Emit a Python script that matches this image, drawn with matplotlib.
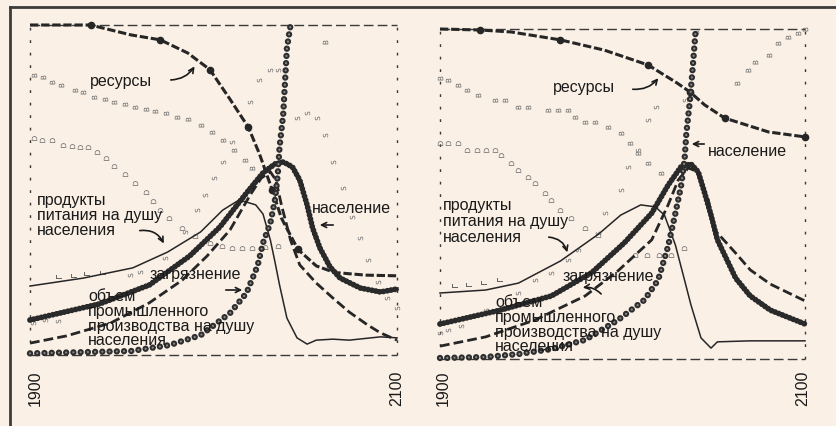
import matplotlib.pyplot as plt
from matplotlib.lines import Line2D
from matplotlib.markers import MarkerStyle
from matplotlib.patches import FancyArrowPatch
from matplotlib.transforms import Affine2D

plt.rcParams['font.family'] = ['Liberation Sans', 'DejaVu Sans']
plt.rcParams['lines.scale_dashes'] = False

W, H = 837, 426
BG = '#faf0e6'
INK = '#262626'

# ---------------- left panel ----------------
left_res_year = [1900, 1933, 1955, 1971, 1986, 1998, 2009, 2019, 2025, 2032, 2037, 2046, 2056, 2066, 2083, 2100]
left_res = [1.0, 1.0, 0.97, 0.955, 0.915, 0.865, 0.775, 0.69, 0.61, 0.5, 0.415, 0.32, 0.27, 0.25, 0.242, 0.24]

left_pol_year = [1900, 1955, 1976, 1993, 2009, 2018, 2024, 2027, 2031, 2033.5, 2035, 2036, 2038, 2039, 2040, 2042]
left_pol = [0.005, 0.012, 0.03, 0.06, 0.127, 0.188, 0.27, 0.34, 0.4, 0.47, 0.545, 0.63, 0.73, 0.83, 0.93, 1.0]

left_pop_year = [1900, 1938, 1965, 1987, 2003.5, 2018, 2027, 2033.5, 2038, 2043, 2047, 2051, 2054, 2058, 2063.5, 2069, 2080, 2091, 2100]
left_pop = [0.106, 0.155, 0.212, 0.3, 0.388, 0.491, 0.552, 0.579, 0.585, 0.57, 0.53, 0.455, 0.385, 0.324, 0.267, 0.233, 0.203, 0.191, 0.2]

left_ind_year = [1900, 1920, 1944, 1965, 1983, 1996.5, 2009, 2020, 2026, 2031, 2034, 2037, 2042, 2047, 2056, 2065, 2074, 2084, 2091, 2100]
left_ind = [0.036, 0.058, 0.097, 0.158, 0.227, 0.3, 0.379, 0.485, 0.536, 0.555, 0.53, 0.455, 0.348, 0.273, 0.218, 0.173, 0.13, 0.091, 0.067, 0.045]

left_food_year = [1900, 1929, 1956, 1975, 1993, 2005, 2014, 2023, 2027, 2031, 2033.5, 2036, 2040, 2045.5, 2051, 2056, 2065, 2074, 2091, 2100]
left_food = [0.209, 0.233, 0.264, 0.312, 0.373, 0.439, 0.47, 0.455, 0.427, 0.348, 0.282, 0.212, 0.112, 0.052, 0.033, 0.045, 0.048, 0.045, 0.055, 0.052]

left_b_year = [1902, 1907, 1912, 1917, 1924.5, 1929, 1935, 1941, 1946, 1952, 1957, 1963, 1968, 1974, 1980, 1986, 1993, 1999, 2005, 2011, 2017, 2021, 2061]
left_b = [0.848, 0.842, 0.827, 0.818, 0.803, 0.797, 0.782, 0.776, 0.767, 0.761, 0.752, 0.745, 0.739, 0.733, 0.721, 0.715, 0.697, 0.676, 0.652, 0.621, 0.591, 0.567, 0.948]

left_d_year = [1902, 1906.5, 1912, 1918, 1923, 1927, 1931.5, 1936.5, 1941.5, 1946, 1952, 1957, 1963, 1967, 1971, 1976, 1983, 1990, 1998, 2004.5, 2010, 2015.5, 2021, 2028, 2035]
left_d = [0.658, 0.652, 0.652, 0.636, 0.633, 0.63, 0.63, 0.615, 0.597, 0.573, 0.548, 0.521, 0.494, 0.467, 0.439, 0.415, 0.385, 0.361, 0.339, 0.33, 0.324, 0.324, 0.324, 0.327, 0.33]

left_s_year = [1901.5, 1908, 1915, 1954.5, 1960, 1973.5, 1984.5, 1991, 1995.5, 2000, 2005, 2010, 2020, 2025, 2031, 2035,
               2045.5, 2051, 2056.5, 2061, 2065, 2070.5, 2075.5, 2080, 2084, 2089.5, 2094.5, 2100]
left_s = [0.097, 0.106, 0.103, 0.242, 0.252, 0.294, 0.373, 0.439, 0.485, 0.536, 0.585, 0.645, 0.767, 0.833, 0.864, 0.864,
          0.718, 0.733, 0.718, 0.667, 0.585, 0.506, 0.418, 0.355, 0.288, 0.221, 0.173, 0.142]

left_f_year = [1916, 1924, 1931, 1940]
left_f = [0.235, 0.24, 0.245, 0.25]

# ---------------- right panel ----------------
right_res_year = [1900, 1922, 1939, 1966, 1990, 2014, 2030, 2037, 2045, 2056, 2080, 2100]
right_res = [1.0, 0.997, 0.991, 0.967, 0.936, 0.891, 0.836, 0.809, 0.77, 0.73, 0.688, 0.673]

right_pol_year = [1900, 1925, 1943, 1961, 1979.5, 1997.5, 2012, 2019.5, 2025, 2029, 2032, 2034, 2035, 2037, 2038.5, 2040]
right_pol = [0.003, 0.006, 0.015, 0.03, 0.058, 0.118, 0.179, 0.239, 0.342, 0.442, 0.521, 0.603, 0.685, 0.785, 0.885, 0.99]

right_pop_year = [1900, 1933, 1961, 1983, 2001, 2016, 2025, 2032, 2037.5, 2041.5, 2045, 2048.5, 2052, 2062, 2070, 2081, 2100]
right_pop = [0.106, 0.148, 0.191, 0.261, 0.352, 0.442, 0.527, 0.582, 0.591, 0.567, 0.503, 0.436, 0.361, 0.245, 0.191, 0.148, 0.106]

right_ind_year = [1900, 1925, 1952, 1979.5, 1997.5, 2016, 2025, 2030.5, 2036, 2041.5, 2047, 2050.5, 2062, 2070, 2081, 2100]
right_ind = [0.039, 0.067, 0.118, 0.191, 0.267, 0.361, 0.467, 0.542, 0.579, 0.567, 0.482, 0.391, 0.321, 0.27, 0.227, 0.176]

right_food_year = [1900, 1925, 1943, 1966, 1987, 1999, 2010, 2018, 2023, 2029, 2034, 2037.5, 2043, 2048.5, 2052, 2070, 2100]
right_food = [0.2, 0.209, 0.23, 0.297, 0.379, 0.436, 0.467, 0.461, 0.436, 0.345, 0.239, 0.164, 0.064, 0.033, 0.052, 0.055, 0.055]

right_b_year = [1900, 1904.5, 1910, 1915, 1921, 1930, 1935.5, 1942.5, 1948, 1959, 1964.5, 1970, 1974, 1979.5, 1985, 1992,
                1999, 2004, 2008.5, 2014, 2021, 2063, 2069, 2072.5, 2080, 2085, 2090.5, 2096, 2100]
right_b = [0.852, 0.845, 0.83, 0.815, 0.8, 0.785, 0.785, 0.764, 0.764, 0.755, 0.755, 0.755, 0.733, 0.718, 0.718, 0.703,
           0.685, 0.655, 0.624, 0.594, 0.564, 0.836, 0.876, 0.9, 0.921, 0.958, 0.976, 0.988, 1.0]

right_d_year = [1900, 1904.5, 1910, 1915, 1920, 1925, 1930, 1933.5, 1939, 1942.5, 1948, 1952, 1957.5, 1961, 1966, 1972,
                1979.5, 1986.5, 2007, 2013.5, 2020, 2026.5, 2033.5]
right_d = [0.655, 0.655, 0.655, 0.633, 0.633, 0.633, 0.633, 0.618, 0.594, 0.573, 0.552, 0.533, 0.503, 0.482, 0.452, 0.427,
           0.397, 0.376, 0.315, 0.315, 0.315, 0.315, 0.336]

right_s_year = [1900, 1904.5, 1911.5, 1925, 1942.5, 1952, 1961, 1970, 1975.5, 1986.5, 1990.5, 1999, 2003, 2008.5, 2014, 2018.5, 2034.5, 2040]
right_s = [0.079, 0.088, 0.1, 0.148, 0.2, 0.239, 0.261, 0.3, 0.33, 0.382, 0.442, 0.512, 0.582, 0.633, 0.724, 0.764, 0.785, 0.991]

right_f_year = [1908, 1916, 1924, 1933]
right_f = [0.22, 0.225, 0.23, 0.24]

years = ['1900', '2100']


def fx(x):
    return x / W


def fy(y):
    return 1 - y / H


def letters(ax, xs, ys, ch):
    m = MarkerStyle('$\\mathrm{%s}$' % ch, transform=Affine2D().rotate_deg(90))
    ax.scatter(xs, ys, marker=m, s=15, c='#666666', linewidths=0, clip_on=False, zorder=2)


def draw_panel(ax, res, pol, pop, ind, food, b, d, s, f):
    ax.set_xlim(1900, 2100)
    ax.set_ylim(0, 1)
    ax.axis('off')
    # dashed frame
    kw = dict(transform=ax.transAxes, color='#3a3a3a', clip_on=False, zorder=1)
    ax.plot([0, 1], [1, 1], ls=(0, (7, 3)), lw=1.0, **kw)
    ax.plot([0, 1], [0, 0], ls=(0, (7, 3)), lw=1.0, **kw)
    ax.plot([0, 0], [0, 1], ls=(0, (2, 7)), lw=1.0, **kw)
    ax.plot([1, 1], [0, 1], ls=(0, (2, 7)), lw=1.0, **kw)

    letters(ax, *b, 'B')
    letters(ax, *d, 'D')
    letters(ax, *s, 'S')
    letters(ax, *f, 'F')

    # resources: dashed with big dots
    ax.plot(*res, color=INK, lw=2.2, ls=(0, (6, 2)), marker='o', ms=4.5,
            markevery=[1, 3, 5, 7, 9, 11], clip_on=False, zorder=4)
    # pollution: chain of circles
    ax.plot(*pol, color='#2e2e2e', lw=4.6, ls=(0, (0.01, 5.2)), dash_capstyle='round',
            clip_on=False, zorder=5)
    ax.plot(*pol, color='#8a8a8a', lw=1.6, ls=(0, (0.01, 5.2)), dash_capstyle='round',
            clip_on=False, zorder=6)
    # population: heavy beaded line
    ax.plot(*pop, color='#2a2a2a', lw=2.6, clip_on=False, zorder=4)
    ax.plot(*pop, color='#2a2a2a', lw=4.2, ls=(0, (0.01, 2.8)), dash_capstyle='round',
            clip_on=False, zorder=4)
    # industrial output per capita: dashed
    ax.plot(*ind, color=INK, lw=2.0, ls=(0, (7, 3)), clip_on=False, zorder=4)
    # food per capita: thin solid
    ax.plot(*food, color=INK, lw=1.1, clip_on=False, zorder=4)


fig = plt.figure(figsize=(W / 100, H / 100), dpi=100, facecolor=BG)

# outer frame of the scan
fig.add_artist(Line2D([fx(10), fx(10)], [0, fy(7)], color='#3c3c3c', lw=2))
fig.add_artist(Line2D([fx(10), 1], [fy(7), fy(7)], color='#3c3c3c', lw=2))

axL = fig.add_axes([fx(30), fy(355), (397 - 30) / W, 330 / H])
axR = fig.add_axes([fx(440), fy(359), (805 - 440) / W, 330 / H])
for ax in (axL, axR):
    ax.set_facecolor('none')

draw_panel(axL, (left_res_year, left_res), (left_pol_year, left_pol), (left_pop_year, left_pop),
           (left_ind_year, left_ind), (left_food_year, left_food), (left_b_year, left_b),
           (left_d_year, left_d), (left_s_year, left_s), (left_f_year, left_f))
draw_panel(axR, (right_res_year, right_res), (right_pol_year, right_pol), (right_pop_year, right_pop),
           (right_ind_year, right_ind), (right_food_year, right_food), (right_b_year, right_b),
           (right_d_year, right_d), (right_s_year, right_s), (right_f_year, right_f))

FS = 11.5


def label(x, y, txt):
    fig.text(fx(x), fy(y), txt, fontsize=FS, color='#1a1a1a', ha='left', va='baseline', zorder=10)


def arrow(a, b, rad=0.0):
    fig.add_artist(FancyArrowPatch(posA=(fx(a[0]), fy(a[1])), posB=(fx(b[0]), fy(b[1])),
                                   transform=fig.transFigure, arrowstyle='->', mutation_scale=9,
                                   connectionstyle='arc3,rad=%s' % rad, lw=1.2, color='#1a1a1a',
                                   zorder=10))


# left panel labels
label(90, 86, 'ресурсы')
arrow((168, 80), (196, 64), 0.3)
label(312, 213, 'население')
arrow((336, 225), (317, 225))
for i, t in enumerate(['продукты', 'питания на душу', 'населения']):
    label(37, 205 + 15 * i, t)
arrow((137, 231), (165, 246), -0.4)
label(150, 279, 'загрязнение')
arrow((223, 290), (245, 290))
for i, t in enumerate(['объем', 'промышленного', 'производства на душу', 'населения']):
    label(88, 301 + 14.8 * i, t)

# right panel labels
label(553, 92, 'ресурсы')
arrow((630, 89), (660, 76), 0.3)
label(708, 156, 'население')
arrow((707, 144), (689, 144))
for i, t in enumerate(['продукты', 'питания на душу', 'населения']):
    label(443, 210 + 16 * i, t)
arrow((546, 237), (568, 255), -0.4)
label(563, 281, 'загрязнение')
arrow((603, 296), (580, 288), 0.3)
for i, t in enumerate(['объем', 'промышленного', 'производства на душу', 'населения']):
    label(495, 307 + 14.8 * i, t)

# year marks
for x0, x1 in ((35, 397), (443, 803)):
    for xp, t in zip((x0, x1), years):
        fig.text(fx(xp), fy(388), t, fontsize=FS, rotation=90, ha='center', va='center', color='#1a1a1a')

fig.savefig('out.png', dpi=100, facecolor=BG)
